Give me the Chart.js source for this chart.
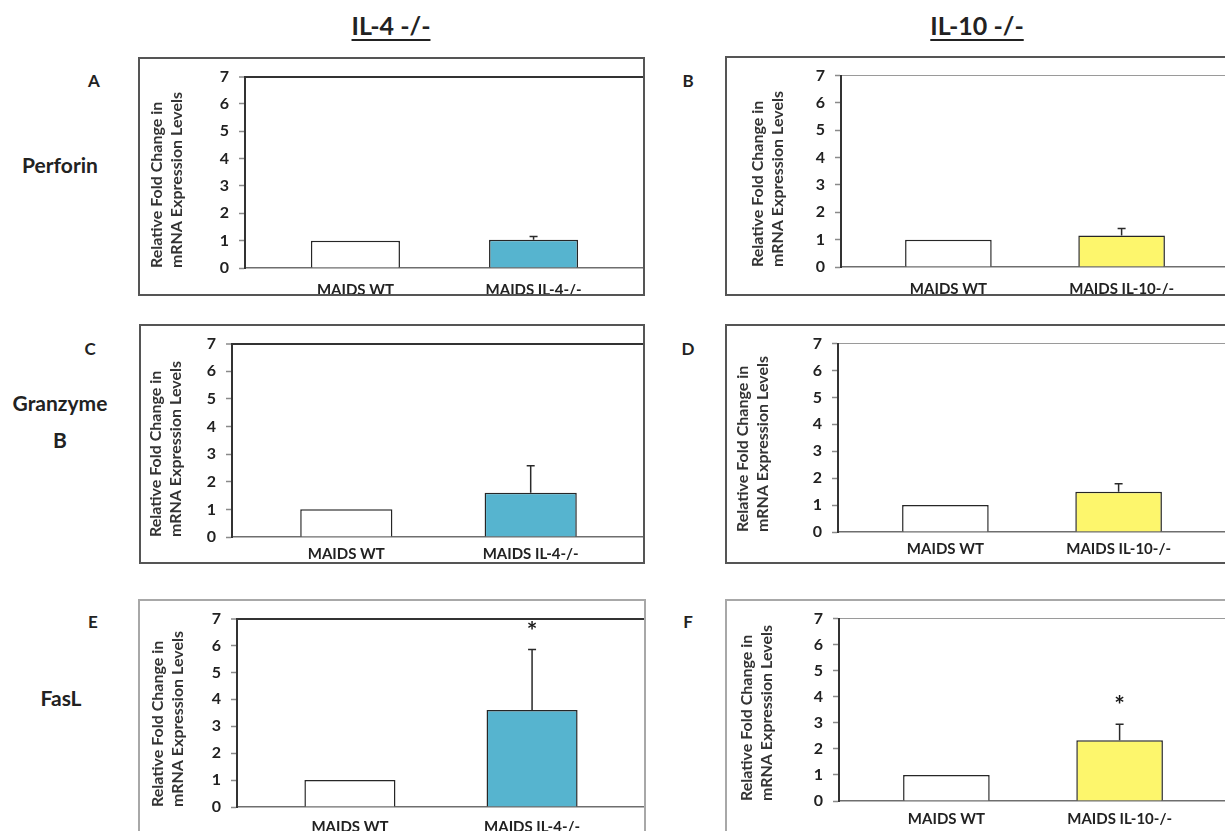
<!DOCTYPE html>
<html>
<head>
<meta charset="utf-8">
<script src="https://cdn.jsdelivr.net/npm/chart.js@4"></script>
<style>
  html, body { margin: 0; padding: 0; background: #fff; overflow: hidden; }
  body { width: 1225px; height: 831px; position: relative; font-family: Lato, "Open Sans", sans-serif; color: #222; }
  canvas { position: absolute; background: #fff; }
  .frame { position: absolute; box-sizing: border-box; border: 2px solid #555; pointer-events: none; }
  .frame.light { border-color: #a8a8a8; }
  .lbl { position: absolute; white-space: nowrap; transform: translate(-50%, -50%); font-weight: 700; }
  .col-title { font-size: 25px; text-decoration: underline; text-decoration-thickness: 2px; text-underline-offset: 4px; }
  .row-title { font-size: 21px; text-align: center; line-height: 37px; }
  .letter { font-size: 17px; }
</style>
</head>
<body>
<div class="lbl col-title" style="left:391px;top:25px">IL-4 -/-</div>
<div class="lbl col-title" style="left:977px;top:25px">IL-10 -/-</div>

<div class="lbl row-title" style="left:60px;top:164px">Perforin</div>
<div class="lbl row-title" style="left:60px;top:421px">Granzyme<br>B</div>
<div class="lbl row-title" style="left:61px;top:697px">FasL</div>

<div class="lbl letter" style="left:94px;top:80px">A</div>
<div class="lbl letter" style="left:688px;top:80px">B</div>
<div class="lbl letter" style="left:90px;top:348px">C</div>
<div class="lbl letter" style="left:688px;top:348px">D</div>
<div class="lbl letter" style="left:93px;top:621px">E</div>
<div class="lbl letter" style="left:688px;top:621px">F</div>

<script>
// ---- data ----
const categoriesIL4 = ['MAIDS WT', 'MAIDS IL-4-/-'];
const categoriesIL10 = ['MAIDS WT', 'MAIDS IL-10-/-'];
const yTitle = ['Relative Fold Change in', 'mRNA Expression Levels'];
const yTickMax = 7;

const perforinIL4 = [1.0, 1.03];
const perforinIL4Err = [0, 0.12];
const perforinIL10 = [1.0, 1.15];
const perforinIL10Err = [0, 0.26];

const granzymeIL4 = [1.0, 1.6];
const granzymeIL4Err = [0, 0.98];
const granzymeIL10 = [1.0, 1.5];
const granzymeIL10Err = [0, 0.29];

const faslIL4 = [1.0, 3.6];
const faslIL4Err = [0, 2.25];
const faslIL10 = [1.0, 2.33];
const faslIL10Err = [0, 0.62];

const faslIL4Sig = [false, true];
const faslIL10Sig = [false, true];
const noSig = [false, false];

// ---- styling ----
const IL4_FILL = '#56b4cf';
const IL10_FILL = '#fdf66c';
const WT_FILL = '#ffffff';

// Upper error whiskers and significance stars, drawn from the data arrays.
const errorBarPlugin = {
  id: 'errorBars',
  afterDatasetsDraw(chart, args, opts) {
    const {ctx} = chart;
    const yScale = chart.scales.y;
    const meta = chart.getDatasetMeta(0);
    const values = chart.data.datasets[0].data;
    ctx.save();
    meta.data.forEach((bar, i) => {
      const err = opts.errors[i];
      const v = values[i].y;
      const yTop = yScale.getPixelForValue(v + err);
      if (err > 0) {
        ctx.strokeStyle = '#2a2a2a';
        ctx.lineWidth = 1.5;
        ctx.beginPath();
        ctx.moveTo(bar.x, bar.y);
        ctx.lineTo(bar.x, yTop);
        ctx.moveTo(bar.x - 4, yTop);
        ctx.lineTo(bar.x + 4, yTop);
        ctx.stroke();
      }
      if (opts.stars[i]) {
        ctx.fillStyle = '#1a1a1a';
        ctx.font = 'bold 25px Lato, sans-serif';
        ctx.textAlign = 'center';
        ctx.textBaseline = 'middle';
        ctx.fillText('*', bar.x, yTop - 18);
      }
    });
    ctx.restore();
  }
};

function makePanel(p) {
  const canvas = document.createElement('canvas');
  canvas.width = p.w;
  canvas.height = p.h;
  canvas.style.left = p.l + 'px';
  canvas.style.top = p.t + 'px';
  document.body.appendChild(canvas);

  const frame = document.createElement('div');
  frame.className = 'frame' + (p.lightFrame ? ' light' : '');
  Object.assign(frame.style, {left: p.l + 'px', top: p.t + 'px', width: p.w + 'px', height: p.h + 'px'});
  document.body.appendChild(frame);

  const fills = [WT_FILL, p.fill];
  new Chart(canvas, {
    type: 'bar',
    data: {
      datasets: [{
        data: p.values.map((v, i) => ({x: i + 1, y: v})),
        backgroundColor: fills,
        borderColor: '#262626',
        borderWidth: 1.5,
        categoryPercentage: 1,
        barPercentage: 0.5
      }]
    },
    plugins: [errorBarPlugin],
    options: {
      responsive: false,
      animation: false,
      events: [],
      layout: {padding: {top: p.topY - p.t, right: p.l + p.w - p.plotRight, left: 0, bottom: 0}},
      plugins: {
        legend: {display: false},
        tooltip: {enabled: false},
        errorBars: {errors: p.errors, stars: p.stars}
      },
      scales: {
        x: {
          type: 'linear',
          offset: false,
          min: 0.38,
          max: 2.62,
          afterBuildTicks: (s) => { s.ticks = p.categories.map((c, i) => ({value: i + 1})); },
          afterFit: (s) => { s.height = p.t + p.h - p.zeroY; },
          ticks: {
            callback: (v) => p.categories[v - 1],
            autoSkip: false,
            maxRotation: 0,
            padding: p.labelGap - 8,
            color: '#222',
            font: {family: 'Lato', size: 15, weight: 'bold'}
          },
          grid: {display: true, drawTicks: false, color: 'rgba(0,0,0,0)'},
          border: {display: true, color: '#6e6e6e', width: 1.5}
        },
        y: {
          min: 0,
          max: yTickMax,
          afterFit: (s) => { s.width = p.axisX - p.l; },
          ticks: {
            stepSize: 1,
            padding: 10,
            color: '#222',
            font: {family: 'Lato', size: 16, weight: 'bold'}
          },
          grid: {
            color: (c) => (c.tick && c.tick.value === yTickMax) ? p.topColor : 'rgba(0,0,0,0)',
            lineWidth: (c) => (c.tick && c.tick.value === yTickMax) ? p.topWidth : 1,
            tickLength: 6,
            tickColor: '#8a8a8a',
            tickWidth: 1.5
          },
          border: {display: true, color: '#333', width: 2},
          title: {
            display: true,
            text: yTitle,
            align: 'start',
            color: '#333',
            padding: {top: p.titleOff - 10, bottom: 0},
            font: {family: 'Lato', size: 16, weight: 'bold', lineHeight: 1.3}
          }
        }
      }
    }
  });
}

const panels = [
  {l: 138, t: 57, w: 507, h: 239, axisX: 245, topY: 72, zeroY: 268, plotRight: 644, labelGap: 21, titleOff: 18,
   categories: categoriesIL4, values: perforinIL4, errors: perforinIL4Err, stars: noSig, fill: IL4_FILL,
   topColor: '#333', topWidth: 2},
  {l: 725, t: 56, w: 520, h: 240, axisX: 841, topY: 67, zeroY: 267, plotRight: 1229, labelGap: 21, titleOff: 32,
   categories: categoriesIL10, values: perforinIL10, errors: perforinIL10Err, stars: noSig, fill: IL10_FILL,
   topColor: '#9a9a9a', topWidth: 1},
  {l: 139, t: 324, w: 506, h: 240, axisX: 232, topY: 339, zeroY: 537, plotRight: 645, labelGap: 16, titleOff: 16,
   categories: categoriesIL4, values: granzymeIL4, errors: granzymeIL4Err, stars: noSig, fill: IL4_FILL,
   topColor: '#333', topWidth: 2},
  {l: 725, t: 324, w: 520, h: 240, axisX: 838, topY: 336, zeroY: 532, plotRight: 1226, labelGap: 16, titleOff: 17,
   categories: categoriesIL10, values: granzymeIL10, errors: granzymeIL10Err, stars: noSig, fill: IL10_FILL,
   topColor: '#9a9a9a', topWidth: 1},
  {l: 138, t: 599, w: 508, h: 252, axisX: 237, topY: 613, zeroY: 807, plotRight: 645, labelGap: 19, titleOff: 19,
   categories: categoriesIL4, values: faslIL4, errors: faslIL4Err, stars: faslIL4Sig, fill: IL4_FILL,
   topColor: '#333', topWidth: 2, lightFrame: true},
  {l: 725, t: 599, w: 520, h: 252, axisX: 839, topY: 611, zeroY: 801, plotRight: 1227, labelGap: 17, titleOff: 21,
   categories: categoriesIL10, values: faslIL10, errors: faslIL10Err, stars: faslIL10Sig, fill: IL10_FILL,
   topColor: '#9a9a9a', topWidth: 1, lightFrame: true}
];

panels.forEach(makePanel);
</script>
</body>
</html>
